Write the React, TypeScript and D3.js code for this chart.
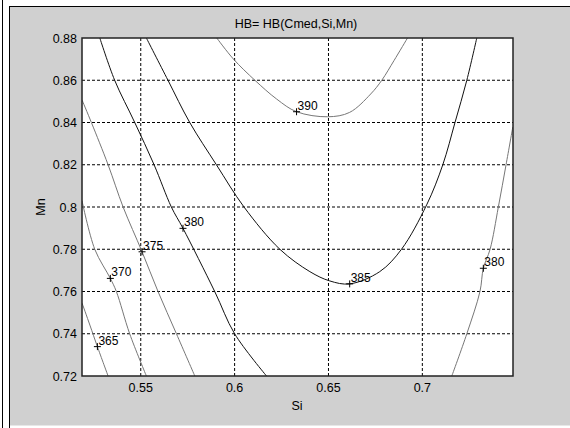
import React from "react";
import * as d3 from "d3";

type Pt = [number, number];

// Contour lines: [Si, Mn]
const c365: Pt[] = [[0.5187, 0.7546], [0.5229, 0.7441], [0.5269, 0.7339], [0.5326, 0.72]];
const c370: Pt[] = [[0.5187, 0.803], [0.5255, 0.78], [0.5338, 0.7662], [0.537, 0.76], [0.5441, 0.74], [0.553, 0.72]];
const c375: Pt[] = [[0.5187, 0.8507], [0.5237, 0.84], [0.5326, 0.82], [0.5406, 0.8], [0.5507, 0.7788], [0.5592, 0.76], [0.569, 0.74], [0.5788, 0.72]];
const c380a: Pt[] = [[0.5282, 0.88], [0.5361, 0.86], [0.5468, 0.84], [0.5571, 0.82], [0.5663, 0.8], [0.5725, 0.7899], [0.5894, 0.76], [0.6, 0.74], [0.617, 0.72]];
const c385: Pt[] = [[0.553, 0.88], [0.5645, 0.86], [0.5761, 0.84], [0.5903, 0.82], [0.605, 0.8], [0.6241, 0.78], [0.6401, 0.7694], [0.6507, 0.765], [0.6613, 0.7636], [0.6773, 0.7694], [0.6889, 0.78], [0.7023, 0.801], [0.7109, 0.82], [0.7174, 0.84], [0.7237, 0.86], [0.729, 0.88]];
const c390: Pt[] = [[0.5905, 0.88], [0.5993, 0.8701], [0.6108, 0.86], [0.6224, 0.8511], [0.633, 0.8451], [0.6496, 0.8427], [0.6613, 0.8448], [0.6725, 0.8535], [0.6784, 0.86], [0.6849, 0.8693], [0.6921, 0.88]];
const c380b: Pt[] = [[0.7482, 0.8379], [0.7446, 0.82], [0.7405, 0.8], [0.7361, 0.78], [0.7325, 0.771], [0.7307, 0.76], [0.7237, 0.74], [0.7157, 0.72]];

const contourLines: Pt[][] = [c365, c370, c375, c380a, c385, c390, c380b];
const contourColors = ["#777", "#777", "#777", "#111", "#111", "#777", "#777"];

// Contour labels
const labelText = ["365", "370", "375", "380", "385", "390", "380"];
const labelSi = [0.5269, 0.5338, 0.5507, 0.5725, 0.6613, 0.633, 0.7325];
const labelMn = [0.7339, 0.7662, 0.7788, 0.7899, 0.7636, 0.8451, 0.771];

const xTicks = [0.55, 0.6, 0.65, 0.7];
const xTickLabels = ["0.55", "0.6", "0.65", "0.7"];
const yTicks = [0.72, 0.74, 0.76, 0.78, 0.8, 0.82, 0.84, 0.86, 0.88];
const yTickLabels = ["0.72", "0.74", "0.76", "0.78", "0.8", "0.82", "0.84", "0.86", "0.88"];

const title = "HB= HB(Cmed,Si,Mn)";
const xLabel = "Si";
const yLabel = "Mn";

export default function App() {
  const W = 570, H = 428;
  const left = 82, right = 513, top = 38, bottom = 376;
  const x = d3.scaleLinear().domain([0.5187, 0.7483]).range([left, right]);
  const y = d3.scaleLinear().domain([0.72, 0.88]).range([bottom, top]);
  const line = d3.line<Pt>().x(d => x(d[0])).y(d => y(d[1])).curve(d3.curveCatmullRom.alpha(0.5));
  const font = "Arial, 'Liberation Sans', sans-serif";

  return (
    <svg width={W} height={H} style={{ position: "absolute", left: 0, top: 0, display: "block" }}>
      <rect x={0} y={0} width={W} height={H} fill="#fff" />
      <rect x={10} y={7} width={W - 10} height={418.5} fill="#d0d0d0" />
      <line x1={2.5} y1={0} x2={2.5} y2={H} stroke="#000" strokeWidth={1} />
      <line x1={9.5} y1={6} x2={9.5} y2={H} stroke="#000" strokeWidth={1} />
      <line x1={9} y1={6.5} x2={W} y2={6.5} stroke="#000" strokeWidth={1} />

      <rect x={left} y={top} width={right - left} height={bottom - top} fill="#fff" />
      <defs>
        <clipPath id="plotclip">
          <rect x={left} y={top} width={right - left} height={bottom - top} />
        </clipPath>
      </defs>

      {xTicks.map((t, i) => (
        <line key={"gx" + i} x1={x(t)} x2={x(t)} y1={top} y2={bottom} stroke="#000" strokeWidth={1} strokeDasharray="3,2" />
      ))}
      {yTicks.slice(1, -1).map((t, i) => (
        <line key={"gy" + i} x1={left} x2={right} y1={y(t)} y2={y(t)} stroke="#000" strokeWidth={1} strokeDasharray="3,2" />
      ))}

      <g clipPath="url(#plotclip)">
        {contourLines.map((c, i) => (
          <path key={"c" + i} d={line(c) || ""} fill="none" stroke={contourColors[i]} strokeWidth={1} />
        ))}
      </g>

      {labelText.map((t, i) => {
        const px = x(labelSi[i]), py = y(labelMn[i]);
        return (
          <g key={"l" + i}>
            <line x1={px - 3.5} x2={px + 3.5} y1={py} y2={py} stroke="#000" strokeWidth={1} />
            <line x1={px} x2={px} y1={py - 3.5} y2={py + 3.5} stroke="#000" strokeWidth={1} />
            <text x={px + 1} y={py - 2} fontFamily={font} fontSize={12} fill="#000">{t}</text>
          </g>
        );
      })}

      <rect x={left} y={top} width={right - left} height={bottom - top} fill="none" stroke="#222" strokeWidth={1.5} />

      {xTicks.map((t, i) => (
        <text key={"xt" + i} x={x(t)} y={392} textAnchor="middle" fontFamily={font} fontSize={12.5} fill="#000">{xTickLabels[i]}</text>
      ))}
      {yTicks.map((t, i) => (
        <text key={"yt" + i} x={77} y={y(t) + 4.5} textAnchor="end" fontFamily={font} fontSize={12.5} fill="#000">{yTickLabels[i]}</text>
      ))}

      <text x={296} y={28} textAnchor="middle" fontFamily={font} fontSize={12.5} fill="#000">{title}</text>
      <text x={297} y={410} textAnchor="middle" fontFamily={font} fontSize={12.5} fill="#000">{xLabel}</text>
      <text x={45} y={207} textAnchor="middle" fontFamily={font} fontSize={12.5} fill="#000" transform="rotate(-90 45 207)">{yLabel}</text>
    </svg>
  );
}
